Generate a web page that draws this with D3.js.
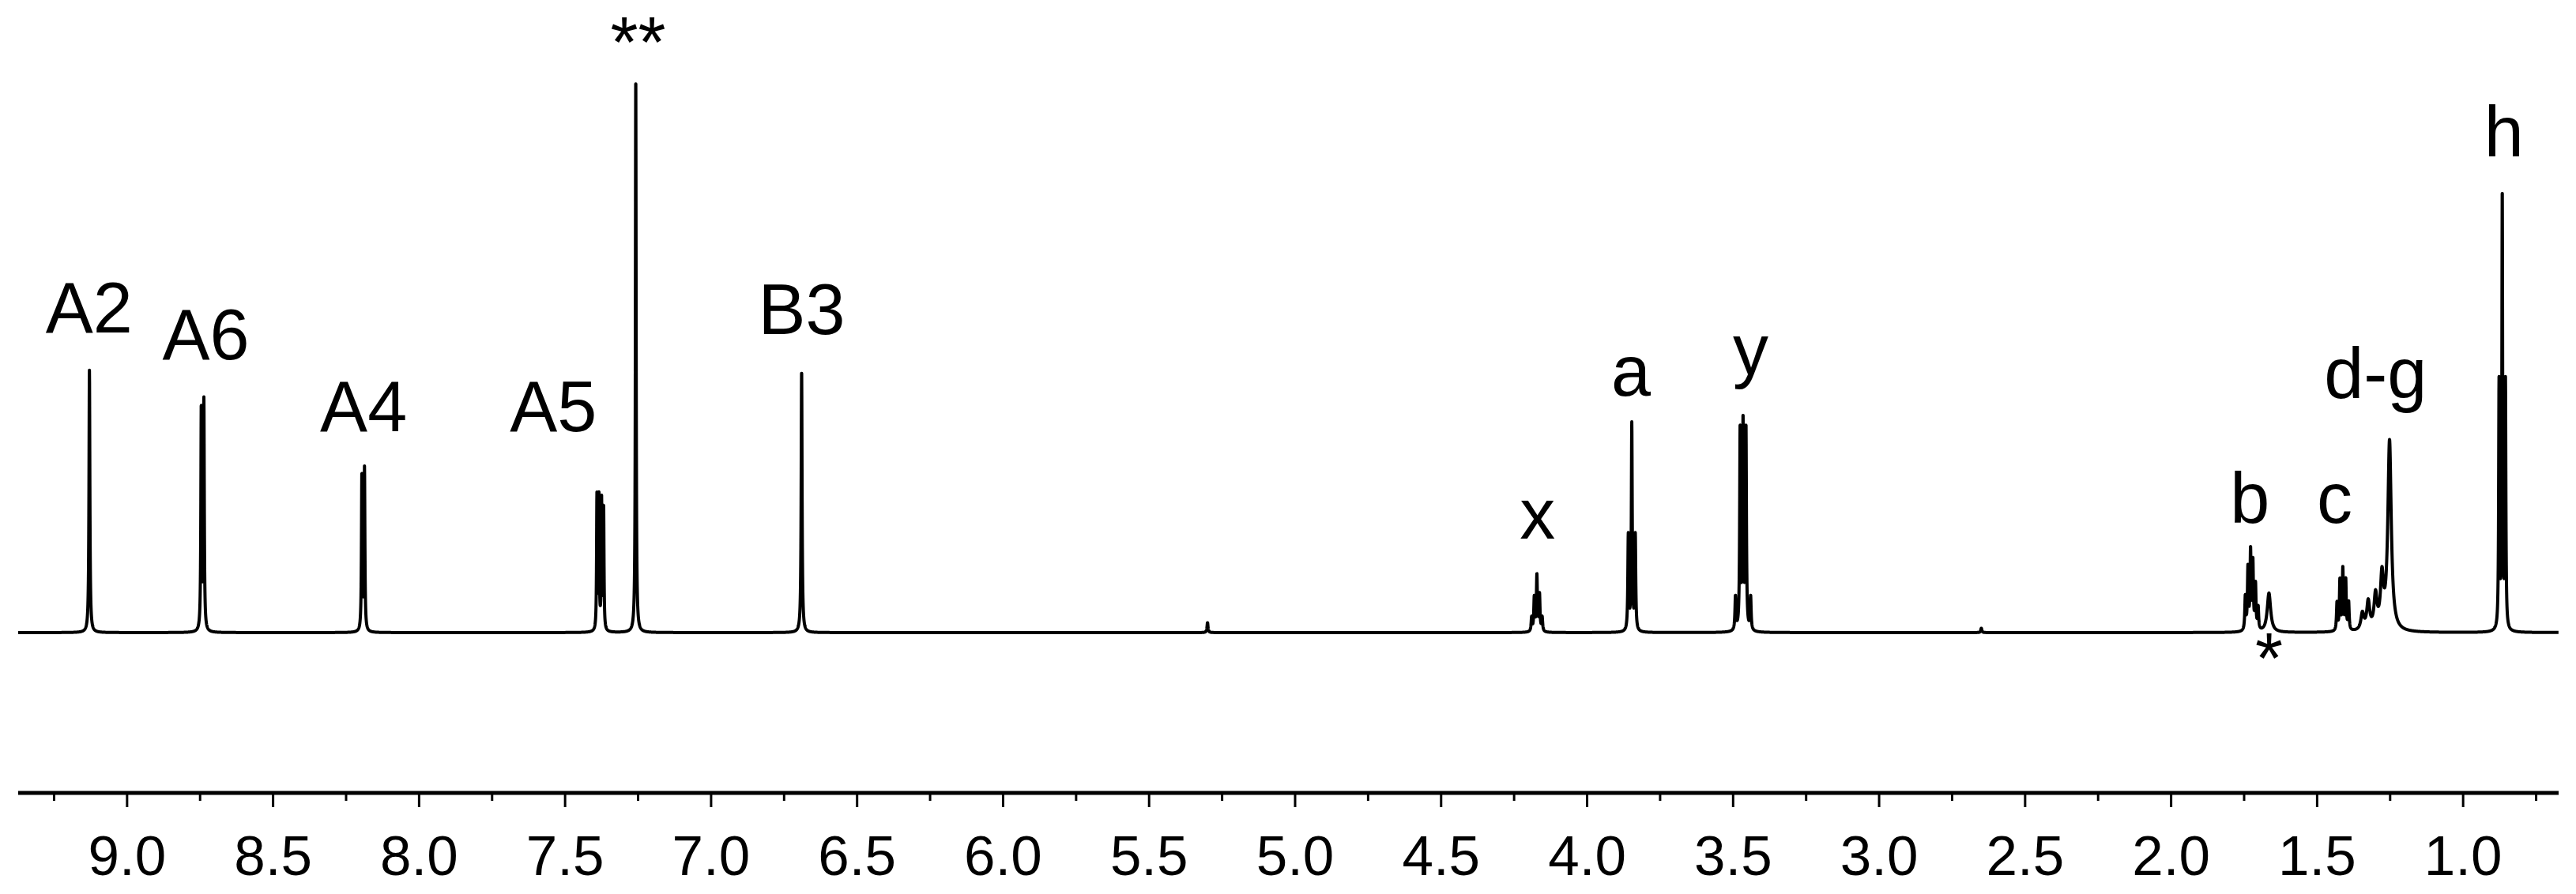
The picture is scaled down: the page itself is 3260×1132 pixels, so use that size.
<!DOCTYPE html>
<html>
<head>
<meta charset="utf-8">
<script src="https://cdn.jsdelivr.net/npm/d3@7"></script>
<style>
  body { margin: 0; background: #fff; }
  text { font-family: "Liberation Sans", Arial, sans-serif; fill: #000; }
</style>
</head>
<body>
<div id="chart"></div>
<script>
// 1H NMR spectrum, chemical shift in ppm (x reversed)
const W = 3260, H = 1132;

// peak lines: [ppm, height (CHCl3 = 1), half width]
const peaksAromatic = [
  [9.129, 0.47, 0.0018],
  [8.746, 0.40, 0.0016], [8.737, 0.41, 0.0016],
  [8.196, 0.28, 0.0016], [8.187, 0.29, 0.0016],
  [7.391, 0.24, 0.0014], [7.384, 0.24, 0.0014], [7.375, 0.23, 0.0014], [7.368, 0.22, 0.0014],
  [7.258, 1.00, 0.0015],
  [6.690, 0.47, 0.0018],
  [5.300, 0.018, 0.002]
];
const peaksAliphatic = [
  [4.190, 0.025, 0.002], [4.181, 0.06, 0.002], [4.172, 0.10, 0.002], [4.163, 0.065, 0.002], [4.154, 0.025, 0.002],
  [3.859, 0.17, 0.0018], [3.847, 0.37, 0.0018], [3.835, 0.17, 0.0018],
  [3.492, 0.06, 0.002], [3.476, 0.36, 0.0018], [3.466, 0.37, 0.0018], [3.456, 0.36, 0.0018], [3.440, 0.06, 0.002],
  [2.650, 0.008, 0.002],
  [1.746, 0.06, 0.002], [1.737, 0.11, 0.002], [1.728, 0.14, 0.002], [1.720, 0.12, 0.002], [1.711, 0.08, 0.002], [1.702, 0.04, 0.002],
  [1.665, 0.07, 0.007],
  [1.432, 0.05, 0.002], [1.422, 0.09, 0.002], [1.412, 0.11, 0.002], [1.402, 0.09, 0.002], [1.392, 0.05, 0.002],
  [1.345, 0.03, 0.006], [1.325, 0.05, 0.006], [1.300, 0.06, 0.006], [1.278, 0.09, 0.006],
  [1.252, 0.34, 0.007],
  [0.877, 0.44, 0.0016], [0.866, 0.78, 0.0016], [0.855, 0.44, 0.0016]
];
const peaks = peaksAromatic.concat(peaksAliphatic);

// signal labels: [text, ppm of label centre, height of label baseline (CHCl3 = 1)]
const labels = [
  ['A2', 9.13, 0.538], ['A6', 8.73, 0.490], ['A4', 8.19, 0.360], ['A5', 7.54, 0.360],
  ['**', 7.25, 1.013], ['B3', 6.69, 0.534],
  ['x', 4.17, 0.168], ['a', 3.85, 0.425], ['y', 3.44, 0.463],
  ['b', 1.73, 0.196], ['*', 1.665, -0.09], ['c', 1.44, 0.196], ['d-g', 1.30, 0.42], ['h', 0.86, 0.853]
];

const majorTicks = [9.0, 8.5, 8.0, 7.5, 7.0, 6.5, 6.0, 5.5, 5.0, 4.5, 4.0, 3.5, 3.0, 2.5, 2.0, 1.5, 1.0];
const minorTicks = d3.range(9.25, 0.7, -0.5);

const x = d3.scaleLinear().domain([9.373, 0.673]).range([23, 3238]);
const y = d3.scaleLinear().domain([0, 1]).range([801, 94]);

const svg = d3.select('#chart').append('svg')
  .attr('width', W)
  .attr('height', H);

// sum of Lorentzian lines along the ppm range
const ppmGrid = d3.range(9.373, 0.673, -0.0004);
const spectrum = ppmGrid.map(p => {
  let s = 0;
  for (const [c, h, w] of peaks) {
    const d = (p - c) / w;
    s += h / (1 + d * d);
  }
  return [p, s];
});

svg.append('path')
  .datum(spectrum)
  .attr('fill', 'none')
  .attr('stroke', '#000')
  .attr('stroke-width', 4)
  .attr('stroke-linejoin', 'round')
  .attr('d', d3.line().x(d => x(d[0])).y(d => y(d[1])));

svg.selectAll('text.lab')
  .data(labels)
  .join('text')
  .attr('class', 'lab')
  .attr('x', d => x(d[1]))
  .attr('y', d => y(d[2]))
  .attr('text-anchor', 'middle')
  .attr('font-size', 90)
  .text(d => d[0]);

// x axis
const axisY = 1004;
const ax = svg.append('g').attr('transform', `translate(0,${axisY})`);
ax.append('line')
  .attr('x1', x.range()[0]).attr('x2', x.range()[1])
  .attr('stroke', '#000').attr('stroke-width', 5);
ax.selectAll('line.major')
  .data(majorTicks)
  .join('line')
  .attr('class', 'major')
  .attr('x1', d => x(d)).attr('x2', d => x(d))
  .attr('y1', 0).attr('y2', 18)
  .attr('stroke', '#000').attr('stroke-width', 3);
ax.selectAll('line.minor')
  .data(minorTicks)
  .join('line')
  .attr('class', 'minor')
  .attr('x1', d => x(d)).attr('x2', d => x(d))
  .attr('y1', 0).attr('y2', 10)
  .attr('stroke', '#000').attr('stroke-width', 3);
ax.selectAll('text')
  .data(majorTicks)
  .join('text')
  .attr('x', d => x(d))
  .attr('y', 104)
  .attr('text-anchor', 'middle')
  .attr('font-size', 71)
  .text(d => d.toFixed(1));
</script>
</body>
</html>
